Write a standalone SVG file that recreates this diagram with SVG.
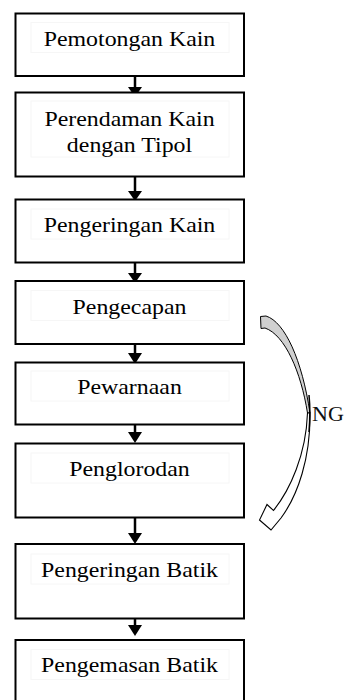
<svg xmlns="http://www.w3.org/2000/svg" width="345" height="700" viewBox="0 0 345 700">
<style>
.box{fill:#fff;stroke:#000;stroke-width:2}
.inner{fill:none;stroke:#f6f6f6;stroke-width:1}
.lbl{font-family:"Liberation Serif","Times New Roman",serif;font-size:21.5px;fill:#000;text-anchor:middle}
.ln{stroke:#000;stroke-width:2.5;fill:none}
.hd{fill:#000}
</style>
<rect width="345" height="700" fill="#fff"/>
<g id="connectors">
<line class="ln" x1="135" y1="70" x2="135" y2="88"/><path class="hd" d="M128,87 L142,87 L135,97 Z"/>
<line class="ln" x1="135" y1="176" x2="135" y2="192"/><path class="hd" d="M128,191 L142,191 L135,201 Z"/>
<line class="ln" x1="135" y1="257" x2="135" y2="274"/><path class="hd" d="M128,273 L142,273 L135,283 Z"/>
<line class="ln" x1="135" y1="338" x2="135" y2="354"/><path class="hd" d="M128,353 L142,353 L135,364 Z"/>
<line class="ln" x1="135" y1="417" x2="135" y2="433"/><path class="hd" d="M128,432 L142,432 L135,443 Z"/>
<line class="ln" x1="135" y1="517" x2="135" y2="534"/><path class="hd" d="M128,533 L142,533 L135,544 Z"/>
<line class="ln" x1="135" y1="609" x2="135" y2="626"/><path class="hd" d="M128,625 L142,625 L135,636 Z"/>
<g id="ng-arrow">
<path d="M260.5,316.5 L266,316 C285,322 302,360 310,413 L307.5,413 C301,372 285,335 265,328 L261,328.5 Z" fill="#d0d0d0" stroke="#000" stroke-width="1"/>
<path d="M310,413 C310.5,458 298,495 281,518 L271,530 L259.5,520 L267,504.5 L273.5,510.5 C290,490 306,455 307.5,413 Z" fill="#fff" stroke="#000" stroke-width="1.1"/>
<path d="M309,395 C310,405 310,420 309,432" fill="none" stroke="#000" stroke-width="1.5"/>
<text x="312" y="421" font-family="Liberation Serif, serif" font-size="22" fill="#111">NG</text>
</g>
</g>
<g id="n1"><rect class="box" x="15.5" y="13.5" width="228.5" height="62.5"/><rect class="inner" x="31" y="22.5" width="198" height="30"/><text class="lbl" transform="translate(129.5,45.5) scale(1.11,1)">Pemotongan Kain</text></g>
<g id="n2"><rect class="box" x="15.5" y="92.5" width="228.5" height="84"/><rect class="inner" x="31" y="101" width="198" height="56"/><text class="lbl" transform="translate(129.5,126) scale(1.11,1)">Perendaman Kain</text><text class="lbl" transform="translate(129.5,152) scale(1.11,1)">dengan Tipol</text></g>
<g id="n3"><rect class="box" x="15.5" y="199.5" width="228.5" height="63"/><rect class="inner" x="31" y="209" width="198" height="30"/><text class="lbl" transform="translate(129.5,231.5) scale(1.11,1)">Pengeringan Kain</text></g>
<g id="n4"><rect class="box" x="15.5" y="281" width="228.5" height="63"/><rect class="inner" x="31" y="290.5" width="198" height="30"/><text class="lbl" transform="translate(129.5,313.5) scale(1.11,1)">Pengecapan</text></g>
<g id="n5"><rect class="box" x="15.5" y="362.5" width="228.5" height="62"/><rect class="inner" x="31" y="371" width="198" height="30"/><text class="lbl" transform="translate(129.5,394) scale(1.11,1)">Pewarnaan</text></g>
<g id="n6"><rect class="box" x="15.5" y="443.5" width="228.5" height="74"/><rect class="inner" x="31" y="453" width="198" height="30"/><text class="lbl" transform="translate(129.5,475.5) scale(1.11,1)">Penglorodan</text></g>
<g id="n7"><rect class="box" x="15.5" y="544" width="228.5" height="74.5"/><rect class="inner" x="31" y="554" width="198" height="30"/><text class="lbl" transform="translate(129.5,576.5) scale(1.11,1)">Pengeringan Batik</text></g>
<g id="n8"><rect class="box" x="15.5" y="640" width="228.5" height="70"/><rect class="inner" x="31" y="649.5" width="198" height="30"/><text class="lbl" transform="translate(129.5,671.5) scale(1.11,1)">Pengemasan Batik</text></g>
</svg>
